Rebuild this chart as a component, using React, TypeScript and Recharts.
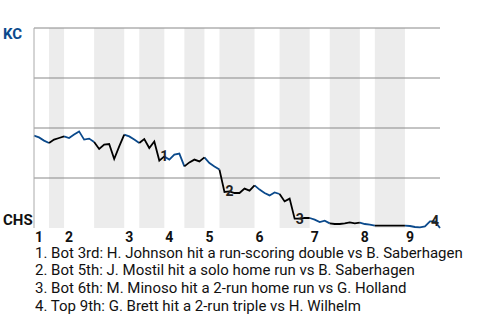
import React from 'react';
import { LineChart, Line, XAxis, YAxis, ReferenceArea, ReferenceLine, ReferenceDot } from 'recharts';

// KC win probability after each plate appearance (index = PA number)
const winProbKC = [
  0.462, 0.453, 0.437, 0.425, 0.442, 0.45, 0.458, 0.45, 0.467, 0.483,
  0.442, 0.447, 0.43, 0.395, 0.417, 0.42, 0.345, 0.408, 0.467, 0.458,
  0.442, 0.425, 0.445, 0.4, 0.433, 0.337, 0.358, 0.342, 0.367, 0.372,
  0.308, 0.328, 0.342, 0.333, 0.353, 0.325, 0.308, 0.292, 0.18, 0.183,
  0.175, 0.175, 0.197, 0.187, 0.213, 0.192, 0.175, 0.163, 0.178, 0.17,
  0.133, 0.147, 0.047, 0.047, 0.05, 0.05, 0.042, 0.03, 0.037, 0.023,
  0.02, 0.02, 0.023, 0.028, 0.023, 0.027, 0.02, 0.017, 0.012, 0.012,
  0.012, 0.012, 0.012, 0.012, 0.012, 0.01, 0.005, 0.003, 0.008, 0.033,
  0.033, 0.0,
];

// half-inning boundaries in plate appearances (top, bottom, top, bottom, ...)
const halfInningBounds = [0, 3, 6, 12, 18, 21, 26, 30, 34, 37, 44, 49, 55, 59, 65, 68, 74, 81];
const inningLabels = ['1', '2', '3', '4', '5', '6', '7', '8', '9'];
const gridLevels = [0.25, 0.5, 0.75, 1];
const teamTop = 'KC';
const teamBottom = 'CHS';

const eventLabels = ['1', '2', '3', '4'];
const eventPA = [26, 39, 53, 80];
const eventNotes = [
  '1. Bot 3rd: H. Johnson hit a run-scoring double vs B. Saberhagen',
  '2. Bot 5th: J. Mostil hit a solo home run vs B. Saberhagen',
  '3. Bot 6th: M. Minoso hit a 2-run home run vs G. Holland',
  '4. Top 9th: G. Brett hit a 2-run triple vs H. Wilhelm',
];

const KC_BLUE = '#0b4a8c';
const FONT = 'Roboto, "Noto Sans", sans-serif';

const data = winProbKC.map((p, i) => {
  let top: number | null = null;
  let bottom: number | null = null;
  for (let k = 0; k < halfInningBounds.length - 1; k++) {
    if (halfInningBounds[k] <= i && i <= halfInningBounds[k + 1]) {
      if (k % 2 === 0) top = p;
      else bottom = p;
    }
  }
  return { x: i, top, bottom };
});

const inningStarts = halfInningBounds.filter((_, k) => k % 2 === 0 && k < halfInningBounds.length - 1);
const bottomHalves: [number, number][] = [];
for (let k = 1; k < halfInningBounds.length - 1; k += 2) {
  bottomHalves.push([halfInningBounds[k], halfInningBounds[k + 1]]);
}
const lastPA = halfInningBounds[halfInningBounds.length - 1];

const XTick = (props: any) => {
  const { x, y, payload } = props;
  const idx = inningStarts.indexOf(payload.value);
  return (
    <text x={x + 1} y={y + 5} dominantBaseline="central" textAnchor="start" fontFamily={FONT} fontWeight="bold" fontSize={14} fill="#111">
      {inningLabels[idx]}
    </text>
  );
};

const YTick = (props: any) => {
  const { y, payload } = props;
  const isTop = payload.value === 1;
  return (
    <text
      x={3}
      y={y + (isTop ? 6 : -8)}
      dominantBaseline="central"
      textAnchor="start"
      fontFamily={FONT}
      fontWeight="bold"
      fontSize={15}
      fill={isTop ? KC_BLUE : '#111'}
    >
      {isTop ? teamTop : teamBottom}
    </text>
  );
};

export default function App() {
  return (
    <div style={{ position: 'absolute', left: 0, top: 0, width: 480, height: 320, background: '#fff' }}>
      <LineChart width={480} height={250} data={data} margin={{ top: 28, right: 40, left: 0, bottom: 0 }}>
        <XAxis
          dataKey="x"
          type="number"
          domain={[0, lastPA]}
          ticks={inningStarts}
          tick={<XTick />}
          axisLine={false}
          tickLine={false}
          tickSize={0}
          tickMargin={4}
          height={22}
          interval={0}
        />
        <YAxis
          type="number"
          domain={[0, 1]}
          ticks={[0, 1]}
          tick={<YTick />}
          axisLine={{ stroke: '#aaa', strokeWidth: 1 }}
          tickLine={false}
          width={34}
          interval={0}
        />
        {bottomHalves.map(([a, b], i) => (
          <ReferenceArea key={'b' + i} x1={a} x2={b} y1={0} y2={1} fill="#ececec" fillOpacity={1} stroke="none" />
        ))}
        {gridLevels.map((g) => (
          <ReferenceLine key={'g' + g} y={g} stroke="#888" strokeWidth={1} />
        ))}
        <Line
          type="linear"
          dataKey="top"
          stroke={KC_BLUE}
          strokeWidth={1.8}
          dot={false}
          isAnimationActive={false}
          connectNulls={false}
        />
        <Line
          type="linear"
          dataKey="bottom"
          stroke="#000"
          strokeWidth={1.8}
          dot={false}
          isAnimationActive={false}
          connectNulls={false}
        />
        {eventPA.map((pa, i) => (
          <ReferenceDot
            key={'e' + i}
            x={pa}
            y={winProbKC[pa]}
            r={0}
            fill="none"
            stroke="none"
            label={{ value: eventLabels[i], position: 'center', fontFamily: FONT, fontWeight: 'bold', fontSize: 14, fill: '#222' }}
          />
        ))}
      </LineChart>
      <div
        style={{
          position: 'absolute',
          left: 35,
          top: 245.5,
          fontFamily: FONT,
          fontSize: 15,
          color: '#111',
          whiteSpace: 'nowrap',
        }}
      >
        {eventNotes.map((n, i) => (
          <div key={i} style={{ lineHeight: '15px', height: 15, marginBottom: 2.8 }}>{n}</div>
        ))}
      </div>
    </div>
  );
}
